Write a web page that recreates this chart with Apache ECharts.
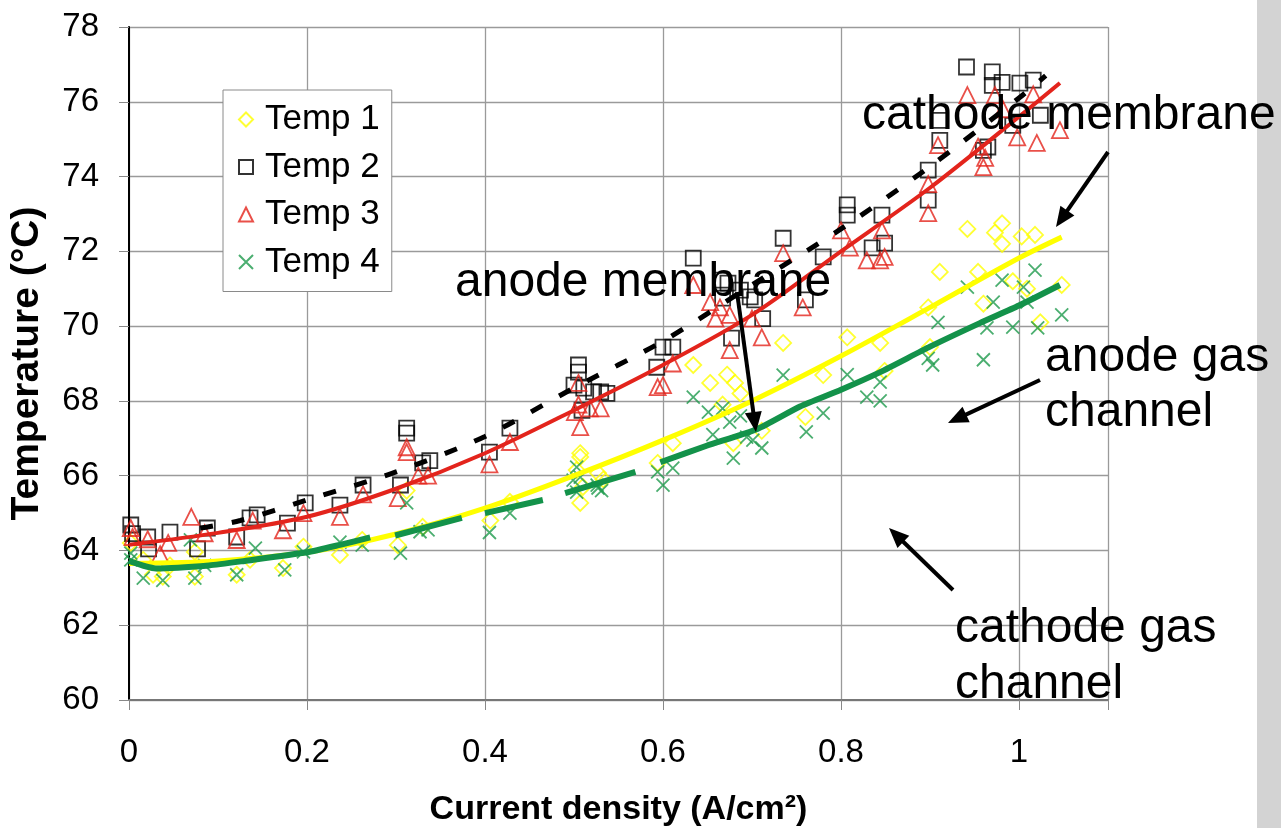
<!DOCTYPE html>
<html><head><meta charset="utf-8">
<script src="https://cdn.jsdelivr.net/npm/echarts@6/dist/echarts.min.js"></script>
<style>html,body{margin:0;padding:0;background:#fff}#c{width:1281px;height:828px}</style>
</head><body><div id="c"></div>
<script>
// ---- data ----
const seriesNames = ['Temp 1', 'Temp 2', 'Temp 3', 'Temp 4'];
const xTickValues = [0, 0.2, 0.4, 0.6, 0.8, 1];
const yTickValues = [60, 62, 64, 66, 68, 70, 72, 74, 76, 78];

const temp1 = [[0.002,64.2],[0.016,63.75],[0.027,63.35],[0.038,63.3],[0.046,63.6],[0.074,63.3],[0.074,63.96],[0.121,63.35],[0.136,63.75],[0.173,63.53],[0.196,64.1],[0.237,63.88],[0.262,64.28],[0.302,64.14],[0.312,65.6],[0.33,64.63],[0.406,64.8],[0.428,65.3],[0.507,66.6],[0.507,66.5],[0.503,66.15],[0.51,65.7],[0.507,65.27],[0.527,66.07],[0.533,65.9],[0.594,66.34],[0.611,66.87],[0.634,68.96],[0.653,68.48],[0.672,68.7],[0.681,68.48],[0.667,67.9],[0.687,68.2],[0.679,66.87],[0.711,67.2],[0.735,69.55],[0.76,67.57],[0.78,68.69],[0.807,69.7],[0.844,69.55],[0.849,68.8],[0.9,69.44],[0.898,70.5],[0.911,71.45],[0.942,72.6],[0.96,70.6],[0.954,71.45],[0.973,72.5],[0.981,72.75],[0.981,72.2],[1.003,72.4],[1.018,72.44],[0.993,71.2],[1.009,71.0],[1.024,70.1],[1.048,71.1]];
const temp2 = [[0.002,64.68],[0.004,64.45],[0.021,64.36],[0.022,64.04],[0.046,64.49],[0.077,64.04],[0.088,64.6],[0.121,64.36],[0.136,64.87],[0.144,64.95],[0.178,64.73],[0.198,65.27],[0.237,65.21],[0.263,65.75],[0.305,65.75],[0.312,67.27],[0.312,67.14],[0.33,66.34],[0.338,66.4],[0.405,66.63],[0.428,67.27],[0.505,68.96],[0.505,68.77],[0.5,68.42],[0.511,68.34],[0.522,68.24],[0.53,68.24],[0.537,68.2],[0.509,67.75],[0.593,68.9],[0.6,69.44],[0.611,69.44],[0.634,71.82],[0.666,71.23],[0.673,71.15],[0.667,70.75],[0.687,70.96],[0.698,70.78],[0.703,70.7],[0.712,70.2],[0.677,69.68],[0.735,72.35],[0.76,70.7],[0.78,71.85],[0.807,73.24],[0.807,72.97],[0.835,72.09],[0.849,72.22],[0.846,72.97],[0.898,74.17],[0.898,73.37],[0.911,74.97],[0.911,75.5],[0.941,76.93],[0.97,76.8],[0.981,76.52],[0.97,76.44],[1.001,76.5],[1.016,76.58],[1.024,75.64],[0.993,75.37],[0.965,74.79],[0.96,74.7]];
const temp3 = [[0.002,64.6],[0.004,64.36],[0.021,64.3],[0.035,63.9],[0.044,64.2],[0.07,64.9],[0.085,64.46],[0.121,64.28],[0.139,64.8],[0.173,64.54],[0.196,65.0],[0.237,64.9],[0.263,65.5],[0.302,65.4],[0.312,66.76],[0.312,66.63],[0.325,66.0],[0.336,66.0],[0.405,66.3],[0.428,66.9],[0.505,68.48],[0.505,67.9],[0.501,67.7],[0.507,67.3],[0.518,67.8],[0.53,67.8],[0.594,68.37],[0.6,68.42],[0.611,69.0],[0.634,71.1],[0.653,70.64],[0.659,70.2],[0.664,70.5],[0.675,70.3],[0.675,69.36],[0.7,70.2],[0.711,69.7],[0.735,71.95],[0.757,70.5],[0.81,72.1],[0.8,72.56],[0.829,71.76],[0.844,71.76],[0.849,71.85],[0.846,72.56],[0.898,73.02],[0.898,73.8],[0.909,74.84],[0.942,76.18],[0.973,76.18],[0.982,75.8],[0.998,75.05],[1.02,74.9],[1.046,75.24],[1.016,76.2],[0.96,74.25],[0.962,74.5],[0.954,74.8]];
const temp4 = [[0.002,63.93],[0.002,63.75],[0.016,63.26],[0.038,63.2],[0.069,64.28],[0.074,63.26],[0.085,63.6],[0.121,63.35],[0.142,64.06],[0.175,63.48],[0.196,63.96],[0.237,64.22],[0.262,64.14],[0.305,63.93],[0.312,65.27],[0.327,64.5],[0.336,64.55],[0.405,64.48],[0.428,65.0],[0.503,66.23],[0.507,65.96],[0.499,65.88],[0.503,65.56],[0.526,65.75],[0.527,65.67],[0.531,65.6],[0.594,66.1],[0.6,65.75],[0.611,66.2],[0.634,68.1],[0.651,67.7],[0.667,67.8],[0.656,67.1],[0.675,67.43],[0.687,67.6],[0.679,66.47],[0.694,67.03],[0.711,66.74],[0.701,66.95],[0.735,68.69],[0.761,67.17],[0.78,67.67],[0.807,68.7],[0.829,68.1],[0.844,68.5],[0.844,68.0],[0.909,70.1],[0.898,69.14],[0.903,68.96],[0.942,71.04],[0.96,69.1],[0.964,69.95],[0.971,70.64],[0.981,71.23],[0.993,69.97],[1.005,71.04],[1.009,70.64],[1.018,71.5],[1.021,69.95],[1.048,70.3]];

// trend lines (null = break in the dashed line)
const fit1X = [0,0.1,0.2,0.3,0.4,0.5,0.6,0.7,0.8,0.9,1.0,1.048];
const fit1Y = [63.65,63.72,63.95,64.44,65.13,66.0,66.95,68.0,69.2,70.5,71.82,72.38];
const fit2X = [0.08,0.125,0.2,0.3,0.4,0.5,0.6,0.7,0.8,0.9,1.0,1.03];
const fit2Y = [64.6,64.8,65.35,66.1,67.05,68.35,69.6,71.1,72.6,74.27,76.1,76.7];
const fit3X = [0,0.1,0.2,0.3,0.4,0.5,0.6,0.7,0.8,0.9,1.0,1.046];
const fit3Y = [64.15,64.47,64.9,65.65,66.6,67.75,68.96,70.3,72.0,73.7,75.6,76.5];
const fit4X = [0,0.03,0.09,0.13,0.2,0.237,0.271,null,0.299,0.374,null,0.40,0.465,null,0.49,0.569,null,0.597,0.649,0.706,0.754,0.8,0.844,0.9,0.956,1.0,1.046];
const fit4Y = [63.72,63.52,63.6,63.72,63.95,64.15,64.35,null,64.4,64.87,null,65.0,65.35,null,65.53,66.1,null,66.36,66.8,67.25,67.85,68.3,68.77,69.45,70.08,70.55,71.1];

const annotations = [
  {text:'cathode membrane', x:862, y:140},
  {text:'anode membrane', x:455, y:307},
  {text:'anode gas', x:1045, y:382},
  {text:'channel', x:1045, y:437},
  {text:'cathode gas', x:955, y:653},
  {text:'channel', x:955, y:709}
];
const arrows = [
  [1108,152,1056,227],
  [737,292,756,432],
  [1040,380,948,423],
  [953,590,889,528]
];

// ---- chart ----
const FONT = '"Liberation Sans", Arial, sans-serif';
const COL = {y:'#FFFF00', k:'#000000', r:'#E3241C', g:'#1E9A4C', gl:'#13924A'};
const pairs = (xs, ys) => xs.map((x,i) => x === null ? ['-','-'] : [x, ys[i]]);
const crossPath = 'path://M0,0L10,10M10,0L0,10';

function arrowEls(a){
  const [x1,y1,x2,y2] = a;
  const dx=x2-x1, dy=y2-y1, L=Math.hypot(dx,dy), ux=dx/L, uy=dy/L;
  const hl=20, hw=8.5;
  const bx=x2-ux*hl, by=y2-uy*hl;
  return [
    {type:'line', shape:{x1,y1,x2:bx+ux*2,y2:by+uy*2}, style:{stroke:'#000',lineWidth:4}, z:100},
    {type:'polygon', shape:{points:[[x2,y2],[bx-uy*hw,by+ux*hw],[bx+uy*hw,by-ux*hw]]}, style:{fill:'#000'}, z:100}
  ];
}

const graphics = [
  {type:'rect', shape:{x:1257,y:0,width:24,height:828}, style:{fill:'#d3d3d3'}, z:-1}
];
annotations.forEach(a => graphics.push({
  type:'text', x:a.x, y:a.y, z:100,
  style:{text:a.text, font:'48px ' + FONT, fill:'#000', verticalAlign:'bottom', align:'left'}
}));
arrows.forEach(a => graphics.push(...arrowEls(a)));

const scatterBase = (name, data, symbol, size, color) => ({
  name, type:'scatter', data, symbol, symbolSize:size,
  itemStyle:{color:'rgba(0,0,0,0)', borderColor:color, borderWidth:1.8},
  emphasis:{disabled:true}, z:2
});
const lineBase = (data, color, width, type, z, sm) => ({
  type:'line', data, showSymbol:false, symbol:'none', smooth:sm, connectNulls:false,
  lineStyle:{color, width, type, cap:'butt'}, emphasis:{disabled:true}, z, silent:true
});

const option = {
  animation:false,
  backgroundColor:'#fff',
  grid:{left:129, right:173, top:27, bottom:128, containLabel:false, outerBoundsMode:'none'},
  legend:{
    data:seriesNames, orient:'vertical', left:223, top:90,
    padding:[12,12,12,15], itemGap:12.5, itemWidth:14, itemHeight:14,
    backgroundColor:'#fff', borderColor:'#8a8a8a', borderWidth:1,
    selectedMode:false,
    textStyle:{fontFamily:FONT, fontSize:35, color:'#000', padding:[0,0,0,7]}
  },
  xAxis:{
    type:'value', min:0, max:1.1, interval:0.2,
    name:'Current density (A/cm²)', nameLocation:'middle', nameGap:93,
    nameTextStyle:{fontFamily:FONT, fontSize:34, fontWeight:'bold', color:'#000'},
    axisLine:{show:true, onZero:false, lineStyle:{color:'#777', width:2}},
    axisTick:{show:true, length:10, lineStyle:{color:'#888'}},
    axisLabel:{fontFamily:FONT, fontSize:33, color:'#000', margin:36,
      formatter:v => xTickValues.some(t => Math.abs(t-v)<1e-9) ? String(+v.toFixed(1)) : ''},
    splitLine:{show:true, lineStyle:{color:'#9a9a9a', width:1.3}}
  },
  yAxis:{
    type:'value', min:60, max:78, interval:2,
    name:'Temperature (°C)', nameLocation:'middle', nameGap:82,
    nameTextStyle:{fontFamily:FONT, fontSize:39, fontWeight:'bold', color:'#000'},
    axisLine:{show:true, onZero:false, lineStyle:{color:'#000', width:2}},
    axisTick:{show:true, length:10, lineStyle:{color:'#888'}},
    axisLabel:{fontFamily:FONT, fontSize:33, color:'#000', margin:30,
      formatter:v => yTickValues.includes(v) ? String(v) : ''},
    splitLine:{show:true, lineStyle:{color:'#9a9a9a', width:1.3}}
  },
  series:[
    scatterBase('Temp 1', temp1, 'diamond', 16, COL.y),
    scatterBase('Temp 2', temp2, 'rect', 15, COL.k),
    scatterBase('Temp 3', temp3, 'triangle', 16, COL.r),
    scatterBase('Temp 4', temp4, crossPath, 13, COL.g),
    lineBase(pairs(fit1X, fit1Y), COL.y, 5, 'solid', 5, 0.3),
    lineBase(pairs(fit3X, fit3Y), COL.r, 4, 'solid', 6, 0.3),
    lineBase(pairs(fit4X, fit4Y), COL.gl, 6, 'solid', 7, 0.2),
    lineBase(pairs(fit2X, fit2Y), COL.k, 5, [13,19], 8, 0.3)
  ],
  graphic:graphics
};
const chart = echarts.init(document.getElementById('c'), null, {renderer:'canvas'});
chart.setOption(option);
</script></body></html>
